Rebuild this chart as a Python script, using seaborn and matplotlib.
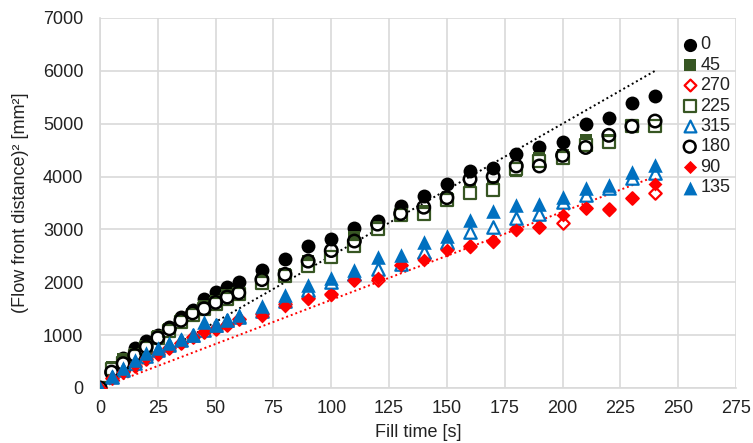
import matplotlib
matplotlib.use("Agg")
import matplotlib.pyplot as plt
import numpy as np
import pandas as pd
import seaborn as sns

# fill time [s]
fill_time = [0, 5, 10, 15, 20, 25, 30, 35, 40, 45, 50, 55, 60, 70, 80, 90, 100,
             110, 120, 130, 140, 150, 160, 170, 180, 190, 200, 210, 220, 230, 240]

# (flow front distance)^2 [mm^2], one list per angle
s0 = [0, 370, 560, 750, 880, 1010, 1150, 1350, 1480, 1680, 1820, 1910, 2000, 2240, 2440, 2690,
      2810, 3030, 3160, 3440, 3640, 3850, 4100, 4170, 4430, 4550, 4650, 5000, 5100, 5400, 5520]
s45 = [0, 400, 540, 650, 800, 980, 1120, 1290, 1400, 1550, 1650, 1750, 1800, 2050, 2150, 2400,
       2500, 2850, 3050, 3250, 3350, 3600, 3750, 3800, 4100, 4350, 4400, 4700, 4700, 4950, 4980]
s270 = [0, 180, 300, 420, 550, 650, 760, 860, 960, 1050, 1120, 1200, 1300, 1400, 1580, 1700,
        1780, 2050, 2050, 2330, 2450, 2620, 2680, 2780, 3000, 3050, 3120, 3400, 3380, 3600, 3690]
s225 = [0, 350, 480, 600, 750, 950, 1080, 1250, 1380, 1500, 1580, 1680, 1780, 1980, 2120, 2300,
        2480, 2680, 3000, 3270, 3300, 3550, 3680, 3750, 4150, 4300, 4350, 4600, 4650, 4950, 4960]
s315 = [0, 200, 340, 480, 600, 720, 820, 900, 1000, 1100, 1200, 1280, 1350, 1450, 1650, 1850,
        2000, 2150, 2260, 2350, 2580, 2770, 2960, 3050, 3210, 3300, 3510, 3650, 3780, 3970, 4060]
s180 = [0, 300, 460, 620, 780, 950, 1120, 1280, 1420, 1500, 1620, 1720, 1800, 2050, 2150, 2400,
        2600, 2780, 3100, 3300, 3420, 3600, 3950, 4000, 4200, 4200, 4400, 4550, 4780, 4950, 5050]
s90 = [0, 190, 310, 430, 560, 660, 760, 860, 960, 1060, 1130, 1210, 1300, 1360, 1550, 1680,
       1760, 2050, 2075, 2330, 2420, 2610, 2670, 2770, 2990, 3050, 3270, 3400, 3370, 3590, 3850]
s135 = [0, 220, 380, 530, 660, 750, 850, 920, 1010, 1250, 1190, 1290, 1390, 1550, 1760, 1950,
        2090, 2230, 2480, 2520, 2770, 2880, 3180, 3340, 3460, 3490, 3620, 3780, 3840, 4090, 4220]

labels = ["0", "45", "270", "225", "315", "180", "90", "135"]
series = [s0, s45, s270, s225, s315, s180, s90, s135]

# dotted reference lines
trend_x = [0, 240]
trend_black = [0, 6000]
trend_red = [0, 4000]

green = "#375623"
red = "#FF0000"
blue = "#0070C0"
styles = {
    "0":   dict(marker="o", s=100, facecolor="black", edgecolor="black", linewidth=0),
    "45":  dict(marker="s", s=85, facecolor=green, edgecolor=green, linewidth=0),
    "270": dict(marker="D", s=40, facecolor="white", edgecolor=red, linewidth=1.6),
    "225": dict(marker="s", s=70, facecolor="white", edgecolor=green, linewidth=1.6),
    "315": dict(marker="^", s=80, facecolor="white", edgecolor=blue, linewidth=1.6),
    "180": dict(marker="o", s=80, facecolor="none", edgecolor="black", linewidth=1.8),
    "90":  dict(marker="D", s=50, facecolor=red, edgecolor=red, linewidth=0),
    "135": dict(marker="^", s=110, facecolor=blue, edgecolor=blue, linewidth=0),
}

sns.set_theme(style="white")
plt.rcParams["font.family"] = ["Liberation Sans", "DejaVu Sans"]

fig = plt.figure(figsize=(7.53, 4.43), dpi=100)
ax = fig.add_axes([0.1328, 0.1242, 0.8446, 0.8352])

ax.plot(trend_x, trend_black, linestyle=(0, (1, 1.5)), color="black", linewidth=1.4, zorder=1)
ax.plot(trend_x, trend_red, linestyle=(0, (1, 1.5)), color=red, linewidth=1.4, zorder=1)

for lab, vals in zip(labels, series):
    df = pd.DataFrame({"t": fill_time, "d": vals})
    sns.scatterplot(data=df, x="t", y="d", ax=ax, label=lab, zorder=3, **styles[lab])

ax.set_xlim(0, 275)
ax.set_ylim(0, 7000)
ax.set_xticks(np.arange(0, 276, 25))
ax.set_yticks(np.arange(0, 7001, 1000))
ax.grid(True, color="#D9D9D9", linewidth=1.2)
ax.set_axisbelow(True)
for side in ["top", "right"]:
    ax.spines[side].set_visible(False)
for side in ["left", "bottom"]:
    ax.spines[side].set_color("#D9D9D9")
    ax.spines[side].set_linewidth(1.2)
ax.tick_params(axis="y", labelsize=13, colors="#222222", length=0, pad=12)
ax.tick_params(axis="x", labelsize=13, colors="#222222", length=0, pad=9)
ax.set_xlabel("Fill time [s]", fontsize=13, color="#222222", labelpad=5)
ax.set_ylabel("(Flow front distance)² [mm²]", fontsize=13, color="#222222", labelpad=10)

leg = ax.legend(loc="upper left", bbox_to_anchor=(0.896, 0.975), frameon=False,
                fontsize=13, handletextpad=0.0, labelspacing=0.19, borderpad=0,
                handlelength=1.2, markerscale=0.95)
for t in leg.get_texts():
    t.set_color("#222222")

fig.savefig("out.png", dpi=100)
